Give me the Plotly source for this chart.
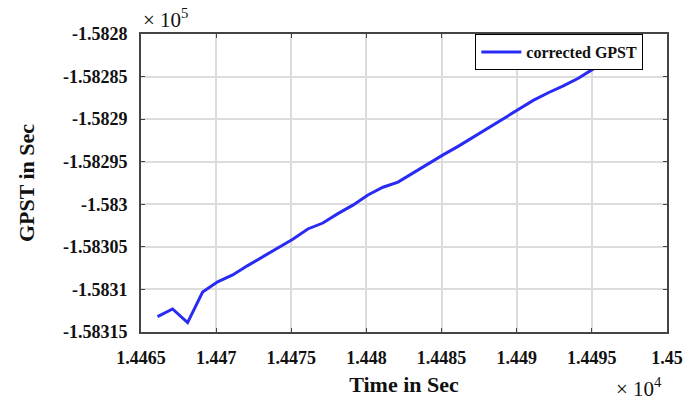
import plotly.graph_objects as go

# time (x10^4 s) and corrected GPST (x10^5 s)
time_vals = [1.44661, 1.44671, 1.44681, 1.44691, 1.44701, 1.44711, 1.44721, 1.44731,
             1.44741, 1.44751, 1.44761, 1.44771, 1.44781, 1.44791, 1.44801, 1.44811,
             1.44821, 1.44831, 1.44841, 1.44851, 1.44861, 1.44871, 1.44881, 1.44891,
             1.44901, 1.44911, 1.44921, 1.44931, 1.44941, 1.44951, 1.44959]
gpst_vals = [-1.583132, -1.583123, -1.583139, -1.583103, -1.583091, -1.583083, -1.583072,
             -1.583062, -1.583051, -1.583041, -1.583029, -1.583022, -1.583011, -1.583001,
             -1.582989, -1.582980, -1.582974, -1.582963, -1.582953, -1.582942, -1.582932,
             -1.582921, -1.582910, -1.582900, -1.582889, -1.582878, -1.582869, -1.582861,
             -1.582852, -1.582841, -1.582834]

x_ticks = [1.4465, 1.447, 1.4475, 1.448, 1.4485, 1.449, 1.4495, 1.45]
x_labels = ["1.4465", "1.447", "1.4475", "1.448", "1.4485", "1.449", "1.4495", "1.45"]
y_ticks = [-1.5828, -1.58285, -1.5829, -1.58295, -1.583, -1.58305, -1.5831, -1.58315]
y_labels = ["-1.5828", "-1.58285", "-1.5829", "-1.58295", "-1.583", "-1.58305", "-1.5831", "-1.58315"]

font_fam = "Liberation Serif"

fig = go.Figure()
fig.add_trace(go.Scatter(x=time_vals, y=gpst_vals, mode="lines", name="<b>corrected GPST</b>",
                         line=dict(color="#2a2af5", width=3)))

axis_common = dict(showline=True, mirror="ticks", linecolor="#444444", linewidth=2,
                   showgrid=True, gridcolor="#dcdcdc", gridwidth=1.5, zeroline=False,
                   ticks="inside", ticklen=4, tickcolor="#444444", automargin=False,
                   tickfont=dict(family=font_fam, size=18, color="#111111"))

fig.update_xaxes(range=[1.4465, 1.45], tickvals=x_ticks,
                 ticktext=["<b>%s</b>" % t for t in x_labels],
                 ticklabelstandoff=8,
                 title=dict(text="<b>Time in Sec</b>", font=dict(family=font_fam, size=22, color="#111111"), standoff=10),
                 **axis_common)
fig.update_yaxes(range=[-1.58315, -1.5828], tickvals=y_ticks,
                 ticktext=["<b>%s</b>" % t for t in y_labels],
                 ticklabelstandoff=8,
                 title=dict(text="<b>GPST in Sec</b>", font=dict(family=font_fam, size=22, color="#111111"), standoff=22),
                 **axis_common)

fig.update_layout(
    width=683, height=402,
    margin=dict(l=141, r=16, t=34, b=70),
    plot_bgcolor="white", paper_bgcolor="white",
    showlegend=True,
    legend=dict(x=0.955, y=1.0, xanchor="right", yanchor="top",
                bgcolor="white", bordercolor="black", borderwidth=1,
                font=dict(family=font_fam, size=16, color="#111111"),
                tracegroupgap=0, itemwidth=40),
    annotations=[
        dict(text="× 10<sup>5</sup>", xref="paper", yref="paper", x=0.0, y=1.0,
             xanchor="left", yanchor="bottom", yshift=0, showarrow=False,
             font=dict(family=font_fam, size=21, color="#111111")),
        dict(text="× 10<sup>4</sup>", xref="paper", yref="paper", x=0.995, y=0.0,
             xanchor="right", yanchor="top", yshift=-40, showarrow=False,
             font=dict(family=font_fam, size=21, color="#111111")),
    ],
)

fig.write_html("out.html")
